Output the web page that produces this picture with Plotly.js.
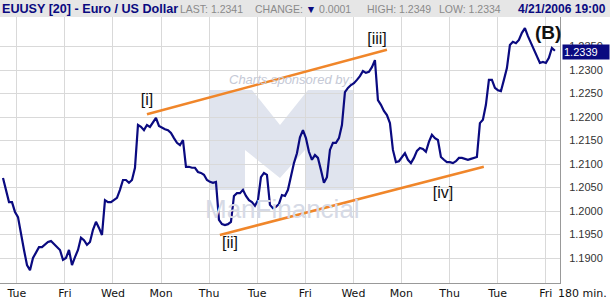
<!DOCTYPE html>
<html>
<head>
<meta charset="utf-8">
<script src="https://cdn.plot.ly/plotly-3.0.1.min.js"></script>
<style>
html,body{margin:0;padding:0;background:#fff;}
#chart{width:610px;height:300px;}
</style>
</head>
<body>
<div id="chart"></div>
<script>
// EUR/USD closes, sampled along the chart (bar index order)
const prices = [
1.2070,1.2045,1.2019,1.2019,1.1998,1.1987,1.1949,1.1917,1.1885,1.1874,
1.1900,1.1913,1.1923,1.1923,1.1928,1.1934,1.1936,1.1930,1.1923,1.1917,
1.1896,1.1900,1.1917,1.1885,1.1902,1.1917,1.1943,1.1938,1.1928,1.1934,
1.1960,1.1977,1.1964,1.1949,1.2023,1.2019,1.2019,1.2023,1.2028,1.2045,
1.2066,1.2066,1.2060,1.2066,1.2092,1.2183,1.2179,1.2172,1.2183,1.2179,
1.2189,1.2198,1.2181,1.2177,1.2174,1.2172,1.2166,1.2155,1.2145,1.2140,
1.2151,1.2094,1.2094,1.2092,1.2092,1.2083,1.2081,1.2077,1.2066,1.2062,
1.2060,1.2062,1.1981,1.1972,1.1970,1.1972,1.1977,1.2032,1.2038,1.2038,
1.2045,1.2032,1.2023,1.2019,1.2011,1.2023,1.2072,1.2081,1.2077,1.2013,
1.2006,1.2009,1.2015,1.2034,1.2032,1.2045,1.2077,1.2102,1.2123,1.2157,
1.2172,1.2155,1.2126,1.2109,1.2119,1.2113,1.2087,1.2060,1.2072,1.2130,
1.2145,1.2145,1.2155,1.2183,1.2253,1.2262,1.2268,1.2272,1.2279,1.2287,
1.2298,1.2294,1.2296,1.2306,1.2321,1.2236,1.2226,1.2213,1.2204,1.2187,
1.2130,1.2104,1.2106,1.2115,1.2123,1.2109,1.2102,1.2113,1.2128,1.2134,
1.2132,1.2126,1.2147,1.2162,1.2155,1.2151,1.2115,1.2109,1.2104,1.2104,
1.2102,1.2106,1.2113,1.2113,1.2111,1.2109,1.2111,1.2113,1.2115,1.2187,
1.2194,1.2226,1.2279,1.2279,1.2262,1.2257,1.2255,1.2279,1.2304,1.2353,
1.2360,1.2357,1.2364,1.2379,1.2389,1.2372,1.2357,1.2343,1.2328,1.2315,
1.2317,1.2315,1.2326,1.2347,1.2341
];
const barIndex = prices.map((_, i) => i);

// x-axis day labels
const dayLabels = ["Tue","Fri","Wed","Mon","Thu","Tue","Fri","Wed","Mon","Thu","Tue","Fri"];
const firstDayTick = 4.6;
const dayTickStep = 16.03;

// y-axis ticks
const priceTicks = [1.1900,1.1950,1.2000,1.2050,1.2100,1.2150,1.2200,1.2250,1.2300,1.2350];

// trend channel endpoints
const upperLineX = [48, 128];
const upperLineY = [1.2206, 1.2343];
const lowerLineX = [72.3, 160.3];
const lowerLineY = [1.1949, 1.2094];

// wave labels
const waveText = ["[i]","[ii]","[iii]","[iv]"];
const waveX = [48, 75.7, 124.7, 146.7];
const waveY = [1.2234, 1.1930, 1.2363, 1.2036];

// header values
const lastPrice = 1.2339;

const tickvals = dayLabels.map((_, i) => firstDayTick + i * dayTickStep);

const navy = "#0a0a80";

const traces = [
  {
    x: barIndex, y: prices, type: "scatter", mode: "lines",
    line: {color: navy, width: 2.2}, hoverinfo: "skip", showlegend: false
  },
  {
    x: upperLineX, y: upperLineY, type: "scatter", mode: "lines",
    line: {color: "#f0862a", width: 2.5}, showlegend: false
  },
  {
    x: lowerLineX, y: lowerLineY, type: "scatter", mode: "lines",
    line: {color: "#f0862a", width: 2.5}, showlegend: false
  },
  {
    x: waveX, y: waveY, text: waveText, type: "scatter", mode: "text",
    textfont: {family: "Arial, Liberation Sans, sans-serif", size: 16, color: "#111"},
    textposition: "middle center", showlegend: false
  }
];

// watermark logo outline, in plot-area pixels (converted to paper units below)
const px = v => v / 560, py = v => (283 - v) / 266;
const logo = [[210,190],[210,90],[252,90],[280,125],[308,90],[353,90],[353,190],[305,190],[305,150],[280,178],[245,150],[245,190]];
const logoPath = "M" + logo.map(p => px(p[0]).toFixed(4) + "," + py(p[1]).toFixed(4)).join(" L") + " Z";

const gridC = "#d9d9d9";
const layout = {
  width: 610, height: 300,
  margin: {l: 0, r: 50, t: 17, b: 17, pad: 0},
  paper_bgcolor: "#ffffff", plot_bgcolor: "rgba(0,0,0,0)",
  font: {family: "Arial, Liberation Sans, sans-serif", size: 11, color: "#222"},
  xaxis: {
    range: [-1, 185.7], tickvals: tickvals, ticktext: dayLabels,
    showgrid: true, gridcolor: gridC, gridwidth: 1, layer: "above traces",
    zeroline: false, showline: true, linecolor: "#999", linewidth: 1,
    ticks: "", tickfont: {size: 11, color: "#111", family: "Verdana, DejaVu Sans, sans-serif"},
    ticklabelstandoff: 0, fixedrange: true
  },
  yaxis: {
    side: "right", range: [1.18468, 1.24128], tickvals: priceTicks,
    tickformat: ".4f", showgrid: true, gridcolor: gridC, gridwidth: 1,
    zeroline: false, showline: true, linecolor: "#999", linewidth: 1,
    ticks: "", ticklabelstandoff: 6,
    tickfont: {size: 11, color: "#333"}, fixedrange: true
  },
  shapes: [
    {type: "rect", xref: "paper", yref: "paper", x0: 0, x1: 1.09, y0: 1.0, y1: 1.07,
     fillcolor: "#e6e6e6", line: {width: 0}, layer: "below"},
    {type: "path", xref: "paper", yref: "paper", path: logoPath,
     fillcolor: "#e0e4ee", line: {width: 0}, layer: "below"}
  ],
  annotations: [
    {xref: "paper", yref: "paper", x: -0.0, y: 1.064, xanchor: "left", yanchor: "top",
     text: "<b>EUUSY [20] - Euro / US Dollar</b>", showarrow: false,
     font: {size: 12.6, color: "#0a0a80", family: "Arial, Liberation Sans, sans-serif"}},
    {xref: "paper", yref: "paper", x: 0.318, y: 1.062, xanchor: "left", yanchor: "top",
     text: "LAST: 1.2341", showarrow: false, font: {size: 10.5, color: "#8a8a8a"}},
    {xref: "paper", yref: "paper", x: 0.452, y: 1.062, xanchor: "left", yanchor: "top",
     text: "CHANGE: <span style='color:#0a0a80'>▼</span> 0.0001", showarrow: false, font: {size: 10.5, color: "#8a8a8a"}},
    {xref: "paper", yref: "paper", x: 0.652, y: 1.062, xanchor: "left", yanchor: "top",
     text: "HIGH: 1.2349", showarrow: false, font: {size: 10.5, color: "#8a8a8a"}},
    {xref: "paper", yref: "paper", x: 0.78, y: 1.062, xanchor: "left", yanchor: "top",
     text: "LOW: 1.2334", showarrow: false, font: {size: 10.5, color: "#8a8a8a"}},
    {xref: "paper", yref: "paper", x: 1.085, y: 1.065, xanchor: "right", yanchor: "top",
     text: "<b>4/21/2006 19:00</b>", showarrow: false,
     font: {size: 12, color: "#0a0a80"}},
    {xref: "x", yref: "y", x: 181.7, y: 1.2380, text: "<b>(B)</b>", showarrow: false,
     font: {size: 19, color: "#111"}},
    {xref: "paper", yref: "y", x: 1.003, y: lastPrice, xanchor: "left", yanchor: "middle",
     text: lastPrice.toFixed(4), showarrow: false, bgcolor: "#0a0a80",
     font: {size: 11, color: "#ffffff"}, borderpad: 1, width: 44, align: "left"},
    {xref: "paper", yref: "paper", x: 1.088, y: -0.041, xanchor: "right", yanchor: "middle",
     text: "180 min.", showarrow: false, font: {size: 11, color: "#111", family: "Verdana, DejaVu Sans, sans-serif"}},
    {xref: "paper", yref: "paper", x: 227/560, y: (283-79)/266, xanchor: "left", yanchor: "middle",
     text: "<i>Charts sponsored by:</i>",
     showarrow: false, font: {size: 13, color: "#c5c9d6"}},
    {xref: "paper", yref: "paper", x: 282/560, y: (283-209)/266, xanchor: "center", yanchor: "middle",
     text: "ManFinancial", showarrow: false,
     font: {size: 26, color: "#d6dae6", family: "Liberation Sans, Arial, sans-serif"}}
  ]
};

Plotly.newPlot("chart", traces, layout, {displayModeBar: false, staticPlot: true});
</script>
</body>
</html>
